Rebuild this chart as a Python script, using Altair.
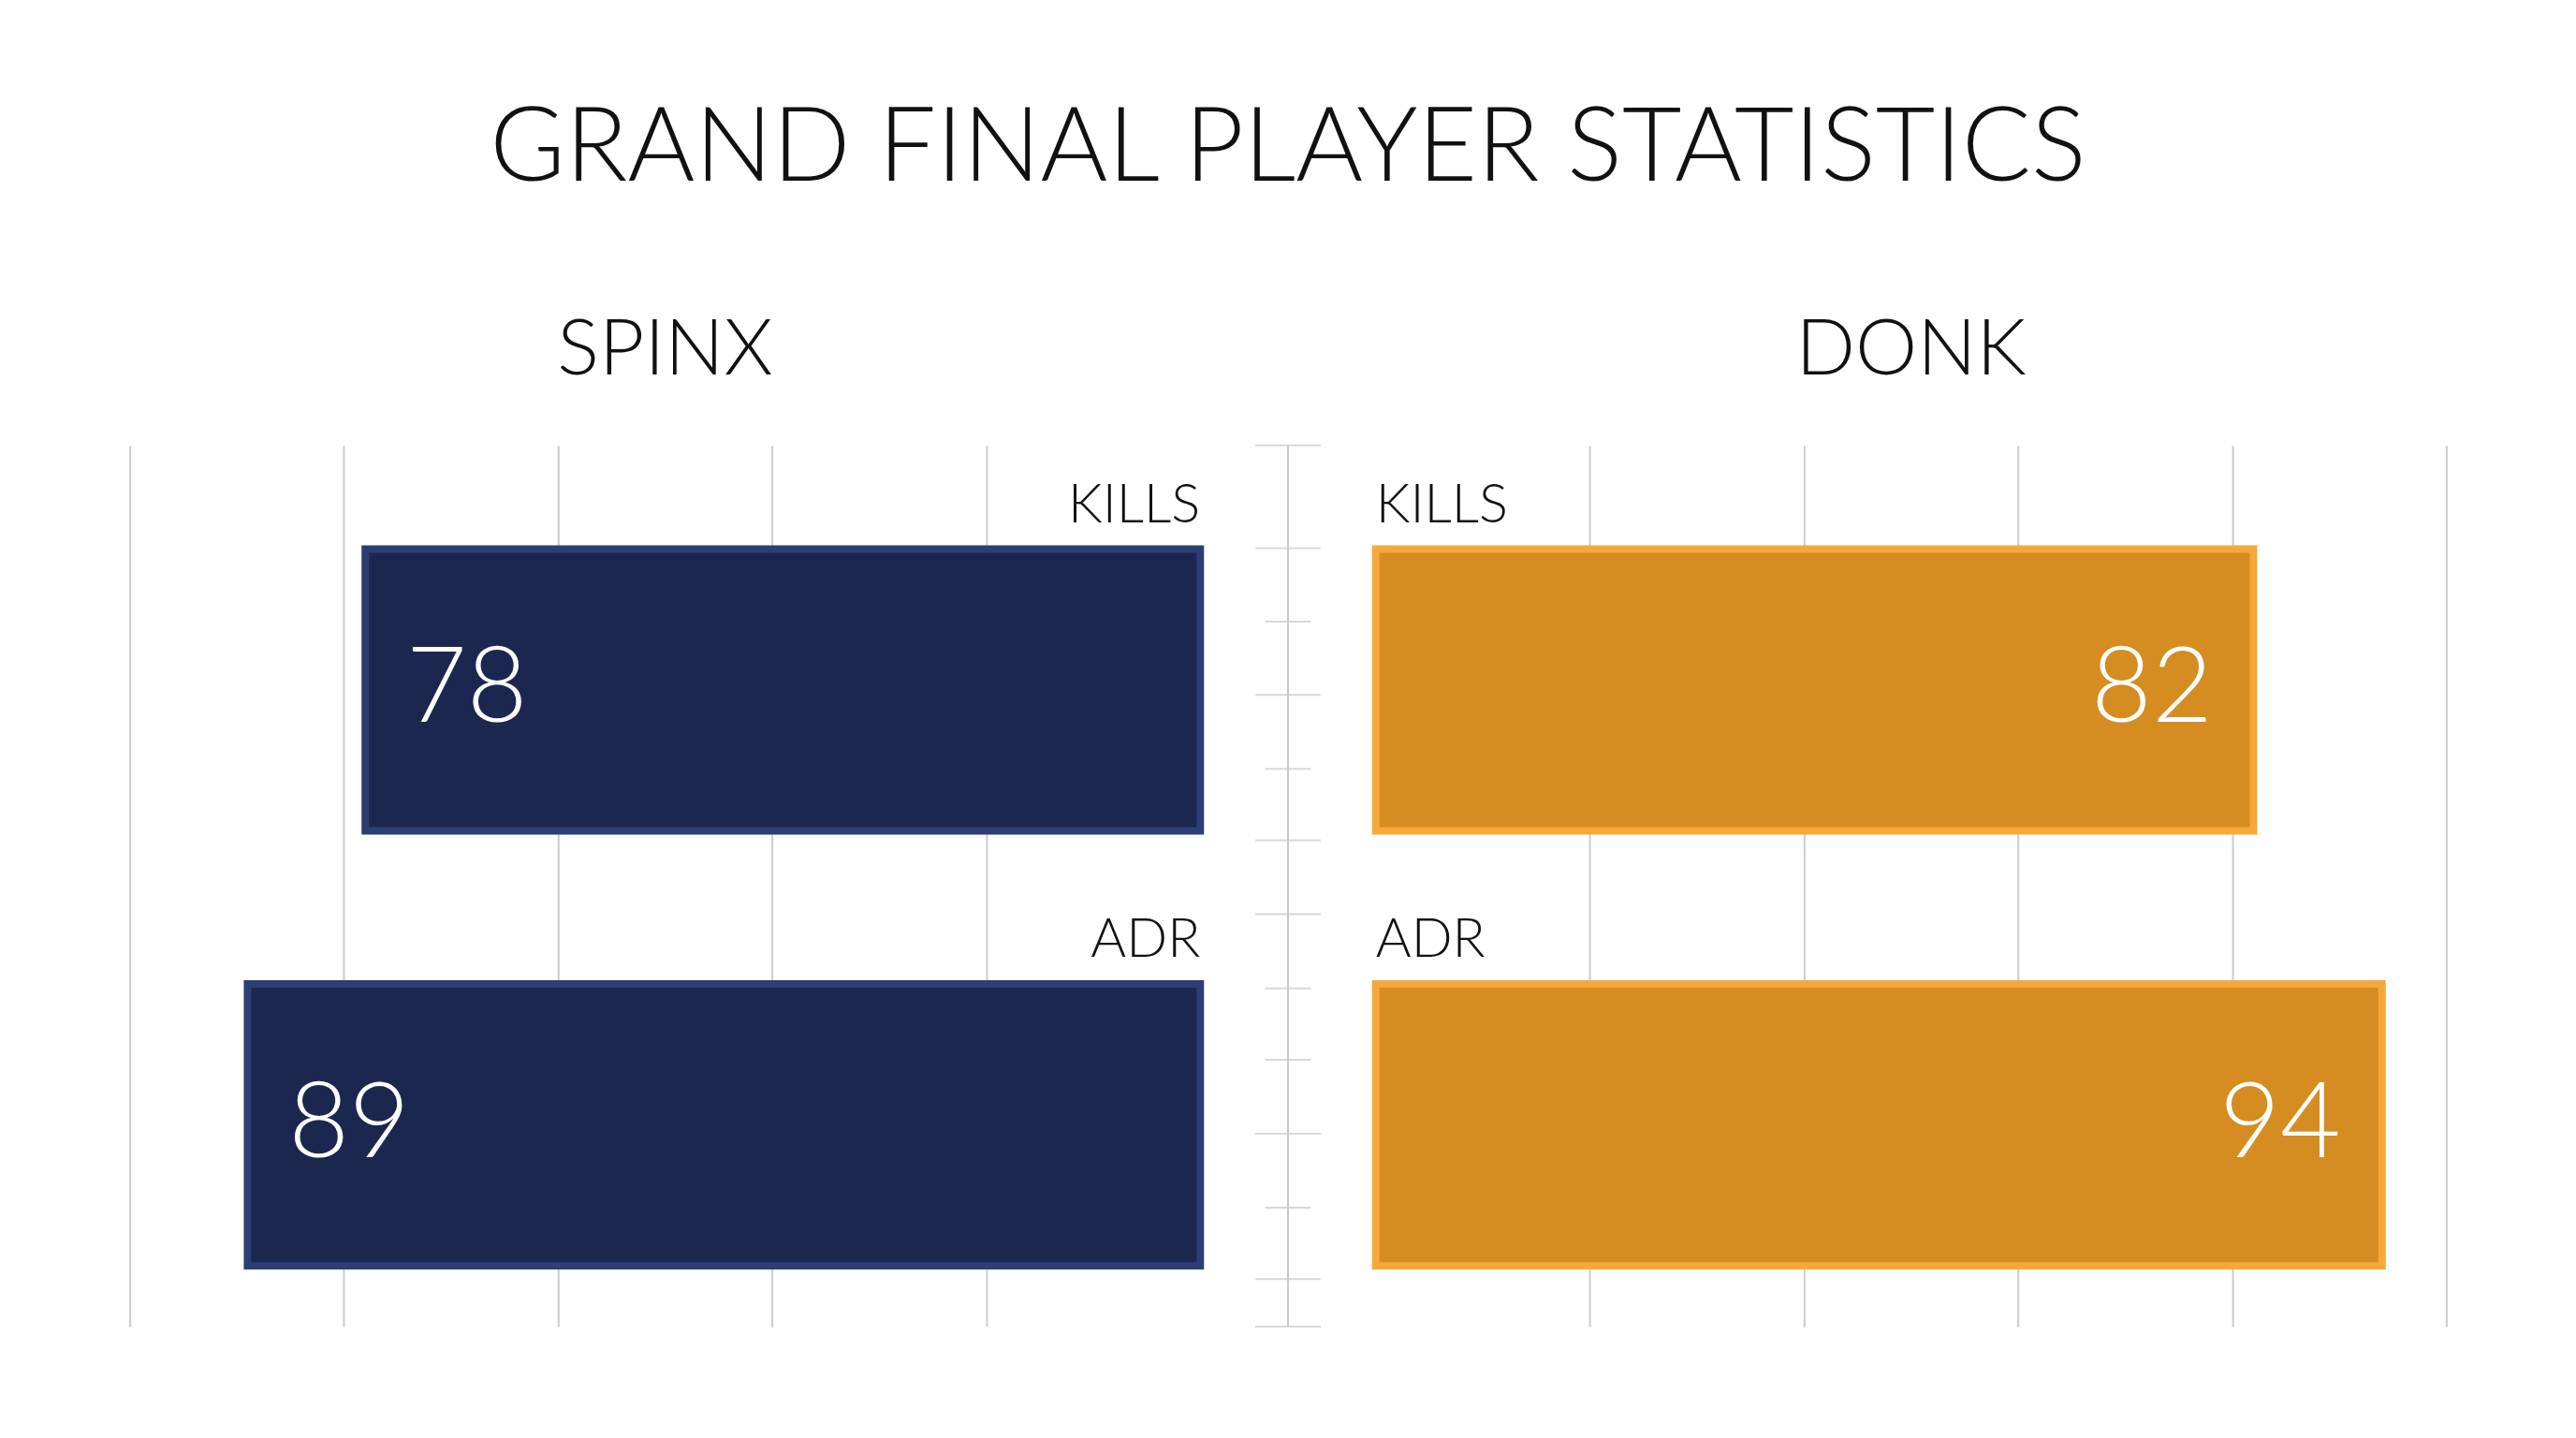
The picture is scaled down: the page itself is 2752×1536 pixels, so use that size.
import altair as alt
import pandas as pd

# ---- data ----
metrics = ["KILLS", "ADR"]
spinx_values = [78, 89]
donk_values = [82, 94]
players = ["SPINX", "DONK"]
grid_values = [20, 40, 60, 80, 100]
# centre ruler: tick positions in % of ruler height (0 = top), and tick length class
ruler_ticks = [0, 11.65, 20.0, 28.3, 36.7, 44.8, 53.2, 61.6, 69.7, 78.1, 86.5, 94.6, 100]
ruler_kinds = ["long", "long", "short", "long", "short", "long", "long",
               "short", "short", "long", "short", "long", "long"]

# ---- styles ----
NAVY_FILL = "#1C2750"
NAVY_EDGE = "#2C3F74"
GOLD_FILL = "#D58D21"
GOLD_EDGE = "#F6A83B"
GRID = "#CCCCCC"
TEXT = "#111111"
FONT = "Lato"

W_PANEL = 1147
W_MID = 180
H = 944


def panel(values, player, fill, edge, side):
    df = pd.DataFrame({"metric": metrics, "value": values})
    left = side == "left"
    x = alt.X(
        "value:Q",
        scale=alt.Scale(domain=[0, 100], reverse=left, nice=False),
        axis=alt.Axis(values=grid_values, grid=True, labels=False, ticks=False,
                      domain=False, title=None, gridColor=GRID, gridWidth=2),
    )
    y = alt.Y("metric:N", sort=metrics,
              scale=alt.Scale(paddingInner=0.352, paddingOuter=0.189, align=0.63),
              axis=None)
    base = alt.Chart(df)
    bars = base.mark_bar(fill=fill, stroke=edge, strokeWidth=8).encode(x=x, y=y)
    vals = base.mark_text(
        align="left" if left else "right", baseline="middle",
        dx=44 if left else -44, font=FONT, fontSize=112, fontWeight=300,
        color="white",
    ).encode(x="value:Q", y=alt.Y("metric:N", sort=metrics), text="value:Q")
    labels = base.mark_text(
        align="right" if left else "left", baseline="alphabetic", dy=-29,
        font=FONT, fontSize=58, fontWeight=300, color=TEXT,
    ).encode(x=alt.datum(0), y=alt.Y("metric:N", sort=metrics, bandPosition=0),
             text="metric:N")
    return alt.layer(bars, vals, labels).properties(
        width=W_PANEL, height=H,
        title=alt.TitleParams(player, anchor="middle", fontSize=84, font=FONT,
                              fontWeight=300, color=TEXT, offset=58),
    )


ruler_df = pd.DataFrame({"pos": ruler_ticks, "kind": ruler_kinds})
ruler_scale = alt.Scale(domain=[0, 100], reverse=True, nice=False)
ruler_base = alt.Chart(ruler_df)
ruler_line = ruler_base.mark_rule(color="#C8C8C8", strokeWidth=2).encode(
    x=alt.value(W_MID / 2),
    y=alt.Y("min(pos):Q", scale=ruler_scale, axis=None),
    y2="max(pos):Q")
ruler_ticks_mark = ruler_base.mark_tick(color="#C8C8C8", thickness=2, orient="horizontal").encode(
    x=alt.value(W_MID / 2),
    y=alt.Y("pos:Q", scale=ruler_scale, axis=None),
    size=alt.Size("kind:N", scale=alt.Scale(domain=["long", "short"], range=[70, 49]), legend=None))
middle = alt.layer(ruler_line, ruler_ticks_mark).properties(width=W_MID, height=H)

left_panel = panel(spinx_values, players[0], NAVY_FILL, NAVY_EDGE, "left")
right_panel = panel(donk_values, players[1], GOLD_FILL, GOLD_EDGE, "right")

chart = alt.hconcat(left_panel, middle, right_panel, spacing=0).properties(
    title=alt.TitleParams("GRAND FINAL PLAYER STATISTICS", anchor="middle",
                          fontSize=110, font=FONT, fontWeight=300, color=TEXT, offset=118),
    padding={"left": 131, "top": 95, "right": 131, "bottom": 110},
    background="#FFFFFF",
).configure_view(stroke=None)

chart.save("out.html", embed_options={"renderer": "svg", "actions": False})
